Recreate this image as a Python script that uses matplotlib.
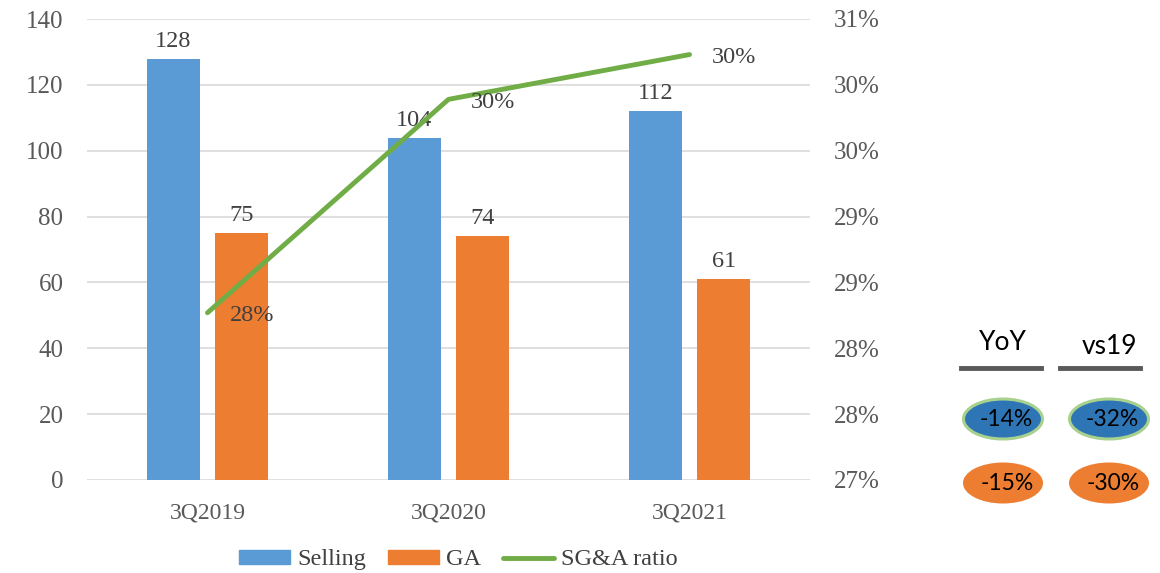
import numpy as np
import matplotlib.pyplot as plt
from matplotlib.patches import Ellipse, Patch
from matplotlib.lines import Line2D
from matplotlib.ticker import FuncFormatter

quarters = ["3Q2019", "3Q2020", "3Q2021"]
selling = [128, 104, 112]
ga = [75, 74, 61]
sga_ratio = [0.2827, 0.2989, 0.3023]

yoy_labels = ["-14%", "-15%"]
vs19_labels = ["-32%", "-30%"]

blue = "#5B9BD5"
orange = "#ED7D31"
green = "#70AD47"
grey_txt = "#595959"
dark_txt = "#404040"

plt.rcParams["font.family"] = "Liberation Serif"


def pct(v, pos=None):
    # excel-style rounding (half up) for whole percents
    return f"{int(np.floor(round(v * 1000) / 10 + 0.5))}%"


fig = plt.figure(figsize=(11.6, 5.73), dpi=100)
ax = fig.add_axes([87 / 1160, 93 / 573, 723 / 1160, 461 / 573])
ax2 = ax.twinx()

x = np.arange(len(quarters))
w = 0.22
off = 0.142
b1 = ax.bar(x - off, selling, w, color=blue, zorder=2)
b2 = ax.bar(x + off, ga, w, color=orange, zorder=2)
ax.bar_label(b1, labels=[str(v) for v in selling], padding=5, fontsize=17.5, color=dark_txt)
ax.bar_label(b2, labels=[str(v) for v in ga], padding=5, fontsize=17.5, color=dark_txt)

ax.set_xlim(-0.5, 2.5)
ax.set_ylim(0, 140)
ax.set_yticks(np.arange(0, 141, 20))
ax.yaxis.grid(True, color="#D9D9D9", linewidth=1.2, zorder=0)
ax.set_axisbelow(True)
ax.set_xticks(x)
ax.set_xticklabels(quarters)
ax.tick_params(axis="x", length=0, pad=16, labelsize=17, labelcolor=grey_txt)
ax.tick_params(axis="y", length=0, pad=17, labelsize=18, labelcolor=grey_txt)

ax2.plot(x, sga_ratio, color=green, linewidth=3.5, solid_capstyle="round", zorder=3)
for xi, v in zip(x, sga_ratio):
    ax2.annotate(pct(v), (xi, v), xytext=(16, -2), textcoords="offset points",
                 fontsize=17.5, color=dark_txt, va="center")
ax2.set_ylim(0.27, 0.305)
ax2.set_yticks(np.arange(0.27, 0.3051, 0.005))
ax2.yaxis.set_major_formatter(FuncFormatter(pct))
ax2.tick_params(axis="y", length=0, pad=17, labelsize=18, labelcolor=grey_txt)

for a in (ax, ax2):
    for s in a.spines.values():
        s.set_visible(False)

# legend below the plot
handles = [Patch(color=blue), Patch(color=orange),
           Line2D([], [], color=green, linewidth=3.5, solid_capstyle="round")]
fig.legend(handles, ["Selling", "GA", "SG&A ratio"], loc="center", bbox_to_anchor=(0.395, 0.023),
           ncol=3, frameon=False, fontsize=17.5, handlelength=2.1, handleheight=0.5,
           columnspacing=0.9, handletextpad=0.3, labelcolor=dark_txt)

# change summary on the right
ov = fig.add_axes([0, 0, 1, 1])
ov.set_xlim(0, 1160)
ov.set_ylim(573, 0)
ov.axis("off")
sans = "Lato"
cols = [(1003, 1001, "YoY", 342, yoy_labels), (1109, 1100, "vs19", 347, vs19_labels)]
for cx, lx, head, hy, labs in cols:
    ov.text(cx, hy, head, ha="center", va="center", fontsize=19, family=sans, color="black")
    ov.plot([lx - 40, lx + 40], [368, 368], color=grey_txt, linewidth=3.5)
    ov.add_patch(Ellipse((cx, 419), 79, 40, facecolor="#2E75B6", edgecolor="#A9D18E", linewidth=2.2))
    ov.text(cx + 3, 420, labs[0], ha="center", va="center", fontsize=16.5, family=sans, color="black")
    ov.add_patch(Ellipse((cx, 483), 80, 41, facecolor=orange, edgecolor="none"))
    ov.text(cx + 4, 484, labs[1], ha="center", va="center", fontsize=16.5, family=sans, color="black")

fig.savefig("out.png", dpi=100)
